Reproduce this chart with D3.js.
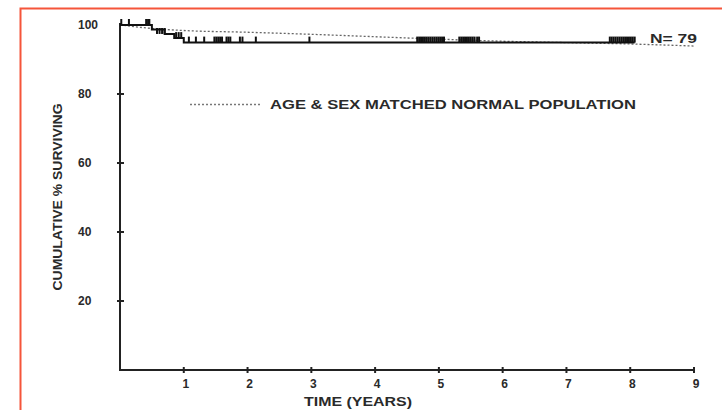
<!DOCTYPE html>
<html>
<head>
<meta charset="utf-8">
<script src="https://cdn.jsdelivr.net/npm/d3@7"></script>
<style>
  body { margin: 0; background: #fff; }
  svg text { font-family: "Liberation Sans", Arial, sans-serif; font-weight: bold; fill: #2a2a2a; }
</style>
</head>
<body>
<div id="chart"></div>
<script>
// Kaplan-Meier curve (years, cumulative % surviving)
var kmTimes = [0, 0.5, 0.7, 0.85, 1.0, 8.07];
var kmValues = [100, 98.7, 97.4, 96.2, 94.9, 94.9];

// censored observations (years, level they sit on)
var censorTimes = [0.02, 0.14, 0.41, 0.44, 0.46,
    0.58, 0.62, 0.66, 0.7,
    0.88, 0.92, 0.96,
    1.08, 1.19, 1.32, 1.48, 1.51, 1.54, 1.57, 1.6, 1.67, 1.7, 1.73, 1.88, 1.92, 2.13, 2.97,
    4.66, 4.69, 4.72, 4.75, 4.78, 4.81, 4.84, 4.87, 4.9, 4.93, 4.96, 4.99, 5.02, 5.05, 5.08,
    5.32, 5.35, 5.38, 5.41, 5.44, 5.47, 5.5, 5.53, 5.56, 5.6, 5.63,
    7.68, 7.71, 7.74, 7.77, 7.8, 7.83, 7.86, 7.89, 7.92, 7.95, 7.98, 8.01, 8.04, 8.07];
var censorLevels = [100, 100, 100, 100, 100,
    97.4, 97.4, 97.4, 97.4,
    96.2, 96.2, 96.2,
    94.9, 94.9, 94.9, 94.9, 94.9, 94.9, 94.9, 94.9, 94.9, 94.9, 94.9, 94.9, 94.9, 94.9, 94.9,
    94.9, 94.9, 94.9, 94.9, 94.9, 94.9, 94.9, 94.9, 94.9, 94.9, 94.9, 94.9, 94.9, 94.9, 94.9,
    94.9, 94.9, 94.9, 94.9, 94.9, 94.9, 94.9, 94.9, 94.9, 94.9, 94.9,
    94.9, 94.9, 94.9, 94.9, 94.9, 94.9, 94.9, 94.9, 94.9, 94.9, 94.9, 94.9, 94.9, 94.9];

// expected survival of age & sex matched normal population
var popTimes = [0, 0.5, 1, 2, 3, 4, 5, 6, 7, 8, 9];
var popValues = [100, 99.0, 98.4, 97.9, 97.3, 96.6, 95.9, 95.3, 94.9, 94.5, 93.9];

var xTicks = [1, 2, 3, 4, 5, 6, 7, 8, 9];
var yTicks = [20, 40, 60, 80, 100];

var W = 722, H = 410;
var svg = d3.select("#chart").append("svg")
    .attr("width", W)
    .attr("height", H);

// red frame
svg.append("rect")
    .attr("x", 20.5).attr("y", 8.5)
    .attr("width", 720).attr("height", 420)
    .attr("fill", "none")
    .attr("stroke", "#f5553a")
    .attr("stroke-width", 2);

var x = d3.scaleLinear().domain([0, 9]).range([120, 694]);
var y = d3.scaleLinear().domain([0, 100]).range([370, 25]);

var ink = "#222";

// axes drawn by hand so ticks cross the line
var xAxis = svg.append("g");
xAxis.append("line")
    .attr("x1", x(0) - 1).attr("x2", x(9))
    .attr("y1", y(0)).attr("y2", y(0))
    .attr("stroke", ink).attr("stroke-width", 2);
xAxis.selectAll(".xt").data(xTicks).enter().append("line")
    .attr("x1", d => x(d)).attr("x2", d => x(d))
    .attr("y1", y(0) - 3).attr("y2", y(0) + 3)
    .attr("stroke", ink).attr("stroke-width", 2);
xAxis.selectAll(".xl").data(xTicks).enter().append("text")
    .attr("x", d => x(d) + 2).attr("y", y(0) + 18)
    .attr("text-anchor", "middle")
    .style("font-size", "12px")
    .text(d => d);

var yAxis = svg.append("g");
yAxis.append("line")
    .attr("x1", x(0)).attr("x2", x(0))
    .attr("y1", y(0) + 1).attr("y2", y(100) - 2)
    .attr("stroke", ink).attr("stroke-width", 2);
yAxis.selectAll(".yt").data(yTicks.filter(d => d < 100)).enter().append("line")
    .attr("x1", x(0) - 3).attr("x2", x(0) + 4)
    .attr("y1", d => y(d)).attr("y2", d => y(d))
    .attr("stroke", ink).attr("stroke-width", 2);
yAxis.selectAll(".yl").data(yTicks).enter().append("text")
    .attr("x", 78).attr("y", d => y(d) + 4)
    .style("font-size", "12px")
    .text(d => d);

// axis titles
svg.append("text")
    .attr("x", 358).attr("y", 406)
    .attr("text-anchor", "middle")
    .attr("textLength", 108)
    .attr("lengthAdjust", "spacingAndGlyphs")
    .style("font-size", "12.5px")
    .text("TIME (YEARS)");

svg.append("text")
    .attr("transform", "translate(62,197) rotate(-90)")
    .attr("text-anchor", "middle")
    .attr("textLength", 187)
    .attr("lengthAdjust", "spacingAndGlyphs")
    .style("font-size", "12px")
    .text("CUMULATIVE % SURVIVING");

// normal population dotted line
var popLine = d3.line()
    .x((d, i) => x(popTimes[i]))
    .y(d => y(d))
    .curve(d3.curveMonotoneX);
svg.append("path")
    .attr("d", popLine(popValues))
    .attr("fill", "none")
    .attr("stroke", "#666")
    .attr("stroke-width", 1.3)
    .attr("stroke-dasharray", "2,2");

// KM step curve
var kmLine = d3.line()
    .x((d, i) => x(kmTimes[i]))
    .y(d => y(d))
    .curve(d3.curveStepAfter);
svg.append("path")
    .attr("d", kmLine(kmValues))
    .attr("fill", "none")
    .attr("stroke", "#111")
    .attr("stroke-width", 2);

// censor marks
svg.selectAll(".cens").data(censorTimes).enter().append("line")
    .attr("x1", d => x(d)).attr("x2", d => x(d))
    .attr("y1", (d, i) => y(censorLevels[i]))
    .attr("y2", (d, i) => y(censorLevels[i]) - 6)
    .attr("stroke", "#111")
    .attr("stroke-width", 2);

// legend
svg.append("line")
    .attr("x1", 190).attr("x2", 262)
    .attr("y1", 104.5).attr("y2", 104.5)
    .attr("stroke", "#777")
    .attr("stroke-width", 1.3)
    .attr("stroke-dasharray", "2,2");
svg.append("text")
    .attr("x", 270).attr("y", 109)
    .attr("textLength", 366)
    .attr("lengthAdjust", "spacingAndGlyphs")
    .style("font-size", "12.5px")
    .text("AGE & SEX MATCHED NORMAL POPULATION");

svg.append("text")
    .attr("x", 650).attr("y", 43)
    .attr("textLength", 47)
    .attr("lengthAdjust", "spacingAndGlyphs")
    .style("font-size", "13px")
    .text("N= 79");
</script>
</body>
</html>
